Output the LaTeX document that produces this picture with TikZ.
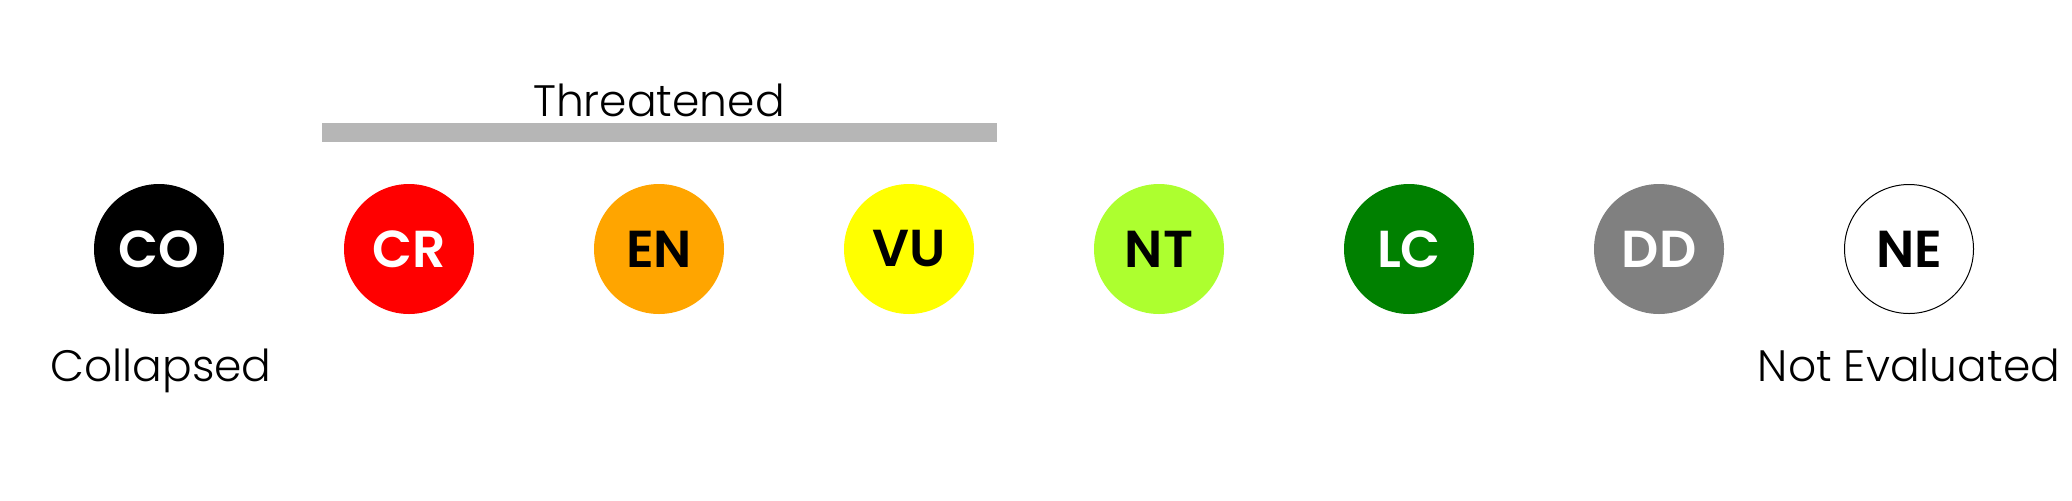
\documentclass[tikz,border=0pt]{standalone}
\usepackage{fontspec}
\setmainfont{Poppins}[UprightFont=* Light, BoldFont=* SemiBold]
\definecolor{cCR}{HTML}{FF0000}
\definecolor{cEN}{HTML}{FFA500}
\definecolor{cVU}{HTML}{FFFF00}
\definecolor{cNT}{HTML}{ADFF2F}
\definecolor{cLC}{HTML}{008000}
\definecolor{cDD}{HTML}{808080}
\definecolor{cBar}{HTML}{B6B6B6}
\begin{document}
\begin{tikzpicture}[x=0.5pt,y=-0.5pt,
  status/.style={circle,minimum size=65pt,inner sep=0pt,font=\fontsize{26}{26}\selectfont\bfseries},
  caption/.style={anchor=base,font=\fontsize{22}{22}\selectfont,inner sep=0pt}]
\useasboundingbox (0,0) rectangle (2072,500);
\fill[cBar] (322,123) rectangle (997,142);
\node[caption] (thr) at (659,116) {Threatened};
\node[status,fill=black,text=white] (CO) at (159,249) {CO};
\node[status,fill=cCR,text=white] (CR) at (409,249) {CR};
\node[status,fill=cEN,text=black] (EN) at (659,249) {EN};
\node[status,fill=cVU,text=black] (VU) at (909,249) {VU};
\node[status,fill=cNT,text=black] (NT) at (1159,249) {NT};
\node[status,fill=cLC,text=white] (LC) at (1409,249) {LC};
\node[status,fill=cDD,text=white] (DD) at (1659,249) {DD};
\node[status,draw=black,line width=0.5pt,text=black,minimum size=64.5pt] (NE) at (1909,249) {NE};
\node[caption] (col) at (161,381) {Collapsed};
\node[caption] (nev) at (1909,381) {Not Evaluated};
\end{tikzpicture}
\end{document}
